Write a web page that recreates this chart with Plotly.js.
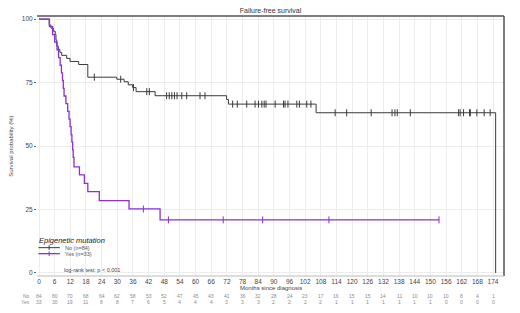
<!DOCTYPE html>
<html>
<head>
<meta charset="utf-8">
<script src="https://cdn.plot.ly/plotly-3.0.1.min.js"></script>
<style>html,body{margin:0;padding:0;background:#fff;}#chart{width:520px;height:313px;}</style>
</head>
<body>
<div id="chart"></div>
<script>
// ---- data ----
const months = [0,6,12,18,24,30,36,42,48,54,60,66,72,78,84,90,96,102,108,114,120,126,132,138,144,150,156,162,168,174];
const riskNo  = [84,80,70,68,64,62,58,53,52,47,45,43,41,36,32,28,24,23,17,16,15,15,14,11,10,10,10,8,4,1];
const riskYes = [33,30,19,11,8,8,7,6,5,4,4,4,3,3,3,2,2,2,2,1,1,1,1,1,1,1,0,0,0,0];

const noTime = [0,3.9,4.6,5.5,6.2,6.5,6.8,7.4,8.0,8.7,10.6,11.9,15.2,18.7,29.8,32.6,34.2,35.9,37.2,44.5,71.9,72.6,106.2,175];
const noSurv = [100,97.6,96.4,95.2,94.0,91.7,89.3,88.1,86.9,85.7,84.5,83.3,82.1,77.1,76.3,75.3,74.1,73.0,71.4,69.8,68.3,66.5,63.1,0];
const noCensor = [21.2,31.3,36.2,41.3,42.3,48.9,49.9,50.9,51.9,52.9,54.7,56.6,61.7,63.6,74.2,76.0,79.6,82.8,84.1,85.4,86.3,87.0,90.5,93.7,94.3,95.4,98.8,99.8,102.6,104.2,113.5,117.9,127.3,135.3,136.4,137.3,142.3,160.8,161.4,162.7,165.0,165.3,167.8,170.6,172.9];

const yesTime = [0,4.0,5.2,6.0,6.9,7.5,8.1,8.6,9.0,9.3,9.6,10.3,11.0,11.5,11.9,12.3,12.6,12.9,13.1,13.4,15.5,17.4,18.7,23.1,34.5,46.4,153.3];
const yesSurv = [100,97.0,93.9,90.9,87.9,84.8,81.8,78.8,75.8,72.7,69.7,66.7,63.6,60.6,57.6,54.5,51.5,48.5,45.5,41.8,38.6,35.3,32.0,28.5,25.2,20.9,20.9];
const yesCensor = [40.0,49.6,70.6,85.7,111.1,153.3];

const groups = ['No (n=84)','Yes (n=33)'];
const colNo = '#3a3a3a', colYes = '#8b2fd6';

function stepAt(times, surv, t){ let v = surv[0]; for(let i=0;i<times.length;i++){ if(times[i] <= t) v = surv[i]; } return v; }

const FONT = 'Liberation Sans, Arial, sans-serif';

const traces = [
  {x:noTime, y:noSurv, mode:'lines', line:{shape:'hv', color:colNo, width:1}, showlegend:false, hoverinfo:'skip'},
  {x:yesTime, y:yesSurv, mode:'lines', line:{shape:'hv', color:colYes, width:1.3}, showlegend:false, hoverinfo:'skip'},
  {x:noCensor, y:noCensor.map(t=>stepAt(noTime,noSurv,t)), mode:'markers', marker:{symbol:'line-ns', size:5, line:{color:colNo, width:1}}, showlegend:false, hoverinfo:'skip'},
  {x:yesCensor, y:yesCensor.map(t=>stepAt(yesTime,yesSurv,t)), mode:'markers', marker:{symbol:'line-ns', size:5, line:{color:colYes, width:1}}, showlegend:false, hoverinfo:'skip'}
];

const RF = {family:FONT, size:5, color:'#8a8a8a'};
const ann = [];
// risk table
months.forEach((m,i)=>{
  ann.push({x:m, xref:'x', y:-0.076, yref:'paper', text:String(riskNo[i]), showarrow:false, font:RF, xanchor:'center', yanchor:'middle'});
  ann.push({x:m, xref:'x', y:-0.100, yref:'paper', text:String(riskYes[i]), showarrow:false, font:RF, xanchor:'center', yanchor:'middle'});
});
ann.push({x:-0.010, xref:'paper', y:-0.076, yref:'paper', text:'No', showarrow:false, font:RF, xanchor:'right', yanchor:'middle'});
ann.push({x:-0.010, xref:'paper', y:-0.100, yref:'paper', text:'Yes', showarrow:false, font:RF, xanchor:'right', yanchor:'middle'});
// axis titles
ann.push({x:0.5, xref:'paper', y:-0.045, yref:'paper', text:'Months since diagnosis', showarrow:false, font:{family:FONT,size:6,color:'#444'}, xanchor:'center', yanchor:'middle'});
ann.push({x:-0.056, xref:'paper', y:0.5, yref:'paper', text:'Survival probability (%)', textangle:-90, showarrow:false, font:{family:FONT,size:6,color:'#444'}, xanchor:'center', yanchor:'middle'});
// legend
ann.push({x:0.001, xref:'paper', y:0.135, yref:'paper', text:'<i>Epigenetic mutation</i>', showarrow:false, font:{family:FONT,size:7.5,color:'#222'}, xanchor:'left', yanchor:'middle'});
ann.push({x:0.056, xref:'paper', y:0.109, yref:'paper', text:groups[0], showarrow:false, font:{family:FONT,size:5.5,color:'#555'}, xanchor:'left', yanchor:'middle'});
ann.push({x:0.056, xref:'paper', y:0.086, yref:'paper', text:groups[1], showarrow:false, font:{family:FONT,size:5.5,color:'#555'}, xanchor:'left', yanchor:'middle'});
ann.push({x:0.053, xref:'paper', y:0.022, yref:'paper', text:'log-rank test: p &lt; 0.001', showarrow:false, font:{family:FONT,size:5.5,color:'#444'}, xanchor:'left', yanchor:'middle'});

const shapes = [
  {type:'line', xref:'paper', yref:'paper', x0:0, x1:1, y0:1, y1:1, line:{color:'#555', width:1.5}},
  {type:'line', xref:'paper', yref:'paper', x0:1, x1:1, y0:0, y1:1, line:{color:'#555', width:1.5}},
  {type:'line', xref:'paper', yref:'paper', x0:0, x1:1, y0:0, y1:0, line:{color:'#bbb', width:1}},
  // legend keys
  {type:'line', xref:'paper', yref:'paper', x0:0.003, x1:0.049, y0:0.109, y1:0.109, line:{color:colNo, width:1}},
  {type:'line', xref:'paper', yref:'paper', x0:0.026, x1:0.026, y0:0.100, y1:0.118, line:{color:colNo, width:1}},
  {type:'line', xref:'paper', yref:'paper', x0:0.003, x1:0.049, y0:0.086, y1:0.086, line:{color:colYes, width:1.3}},
  {type:'line', xref:'paper', yref:'paper', x0:0.026, x1:0.026, y0:0.077, y1:0.095, line:{color:colYes, width:1}}
];

const layout = {
  width:520, height:313,
  margin:{l:37, r:16, t:16, b:37, pad:0},
  paper_bgcolor:'#fff', plot_bgcolor:'#fff',
  font:{family:FONT, size:7, color:'#444'},
  title:{text:'Failure-free survival', font:{family:FONT, size:7, color:'#333'}, x:0.5, xref:'paper', xanchor:'center', y:0.965, yref:'container', yanchor:'middle'},
  xaxis:{range:[-0.77,178.2], tickvals:months, ticktext:months.map(String), tickfont:{family:FONT,size:6.5,color:'#444'}, showgrid:true, gridcolor:'#ededed', gridwidth:1, zeroline:false, showline:false, ticks:'', fixedrange:true},
  yaxis:{range:[-1.2,101.2], tickvals:[0,25,50,75,100], ticktext:['0','25','50','75','100'], tickfont:{family:FONT,size:6.5,color:'#444'}, ticks:'outside', ticklen:2, tickcolor:'#666', tickwidth:1, showgrid:true, gridcolor:'#ededed', gridwidth:1, zeroline:false, showline:false, fixedrange:true},
  annotations:ann,
  shapes:shapes,
  showlegend:false
};

Plotly.newPlot('chart', traces, layout, {staticPlot:true, displayModeBar:false});
</script>
</body>
</html>
